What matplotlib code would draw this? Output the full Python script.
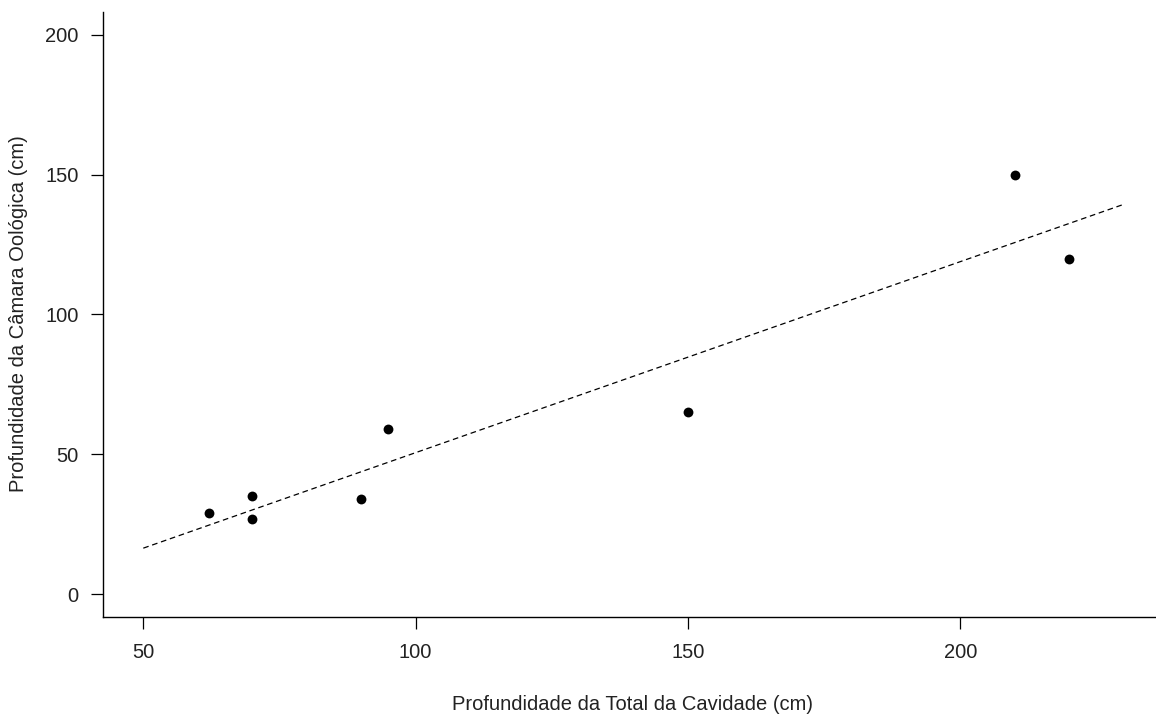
import numpy as np
import matplotlib
matplotlib.use("Agg")
import matplotlib.pyplot as plt

# Data
total_depth = [62, 70, 70, 90, 95, 150, 210, 220]
chamber_depth = [29, 35, 27, 34, 59, 65, 150, 120]
fit_range = [50, 230]
x_ticks = [50, 100, 150, 200]
y_ticks = [0, 50, 100, 150, 200]

plt.rcParams['font.family'] = ['Liberation Sans', 'DejaVu Sans']

W, H = 1156, 714
fig = plt.figure(figsize=(W / 100, H / 100), dpi=100)
left, right, bottom, top = 103.3, 1156, 617.3, 11.7
ax = fig.add_axes([left / W, 1 - bottom / H, (right - left) / W, (bottom - top) / H])

ax.scatter(total_depth, chamber_depth, s=50, color='black', zorder=3, linewidths=0)

slope, intercept = np.polyfit(total_depth, chamber_depth, 1)
xs = np.linspace(fit_range[0], fit_range[1], 100)
ax.plot(xs, slope * xs + intercept, color='black', lw=0.9, linestyle=(0, (4.5, 3)))

ax.set_xlim(42.66, 235.9)
ax.set_ylim(-8.22, 208.2)
ax.set_xticks(x_ticks)
ax.set_yticks(y_ticks)
ax.tick_params(axis='both', length=8.6, width=0.9, labelsize=14.5, color='black', labelcolor='#222222')
ax.tick_params(axis='y', pad=9)
ax.tick_params(axis='x', pad=10)
for s in ['top', 'right']:
    ax.spines[s].set_visible(False)
for s in ['left', 'bottom']:
    ax.spines[s].set_linewidth(1.0)
    ax.spines[s].set_color('black')

fig.text(633 / W, 1 - 704 / H, 'Profundidade da Total da Cavidade (cm)', ha='center', va='center', fontsize=14.5, color='#222222')
fig.text(19 / W, 1 - 314 / H, 'Profundidade da Câmara Oológica (cm)', ha='center', va='center', rotation=90, fontsize=14.5, color='#222222')

fig.savefig('out.png', dpi=100)
